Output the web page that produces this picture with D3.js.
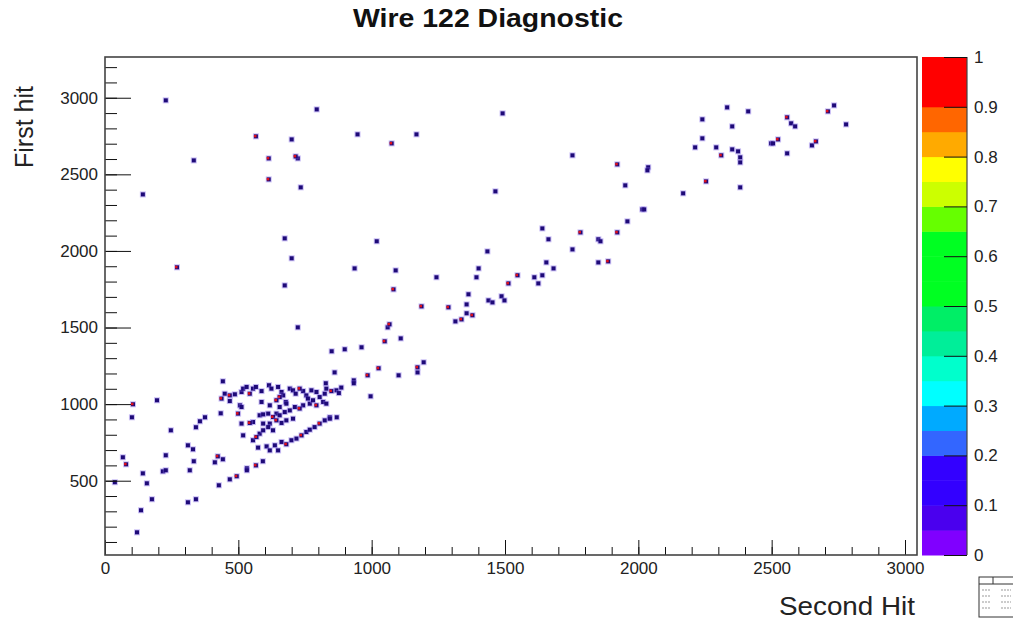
<!DOCTYPE html>
<html lang="en">
<head>
<meta charset="utf-8">
<title>Wire 122 Diagnostic</title>
<script src="https://d3js.org/d3.v7.min.js"></script>
<style>
  body, html { margin: 0; padding: 0; background: #fff; }
  svg { display: block; font-family: 'Liberation Sans', Arial, Helvetica, sans-serif; }
  .axis path { display: none; }
  .axis line { stroke: #111; }
  .axis text { font-size: 17px; fill: #222; }
</style>
</head>
<body>
<div id="chart"></div>
<script>
// hits drawn with the dark (low) palette colour: [second hit, first hit]
const hits = [
  [228,2983],[794,2924],[700,2728],[333,2591],[723,2604],[734,2415],[142,2369],[674,2082],[700,1952],[674,1775],
  [947,2761],[1168,2761],[1491,2898],[1464,2389],[1019,2063],[936,1886],[1090,1873],[1243,1828],[1434,1997],[1401,1886],
  [1393,1828],[1753,2624],[2037,2546],[2034,2526],[1951,2428],[2168,2376],[2382,2415],[2240,2859],[2333,2937],[2412,2911],
  [2352,2813],[2240,2735],[2213,2676],[2292,2676],[2352,2663],[2374,2650],[2382,2611],[2382,2578],[2498,2702],[2505,2702],
  [2573,2833],[2588,2813],[2558,2637],[2651,2689],[2734,2950],[2779,2826],[2015,2271],[2022,2271],[1959,2193],[1640,2147],
  [1663,2076],[1753,2010],[1850,2076],[1858,2063],[1850,1925],[1655,1925],[1682,1886],[1610,1828],[1640,1841],[1625,1788],
  [1487,1704],[1498,1677],[1363,1717],[1356,1651],[1356,1593],[1314,1540],[1438,1677],[1453,1664],[1060,1501],[1109,1429],
  [850,1345],[899,1358],[962,1371],[1195,1273],[1172,1207],[1101,1188],[861,1207],[933,1155],[933,1136],[996,1051],
  [723,1501],[195,1025],[101,914],[247,829],[341,849],[356,888],[375,914],[434,940],[311,731],[330,705],
  [228,666],[67,653],[142,548],[217,561],[228,568],[333,627],[318,568],[412,620],[442,640],[37,490],
  [157,483],[427,470],[468,509],[532,581],[532,568],[592,627],[176,379],[135,307],[311,359],[341,379],
  [120,163],[442,1149],[828,1136],[843,914],[869,914],
  [449,1068],[487,1064],[512,1079],[518,1101],[531,1112],[555,1101],[566,1112],[587,1085],[615,1123],[624,1101],
  [649,1112],[662,1079],[668,1057],[678,1014],[693,1101],[705,1090],[715,1068],[743,1085],[755,1057],[761,1036],
  [774,1090],[793,1079],[805,1046],[824,1068],[830,1101],[868,1090],[886,1108],[877,1072],
  [468,1020],[506,992],[512,981],[587,1014],[618,992],[655,981],[680,1003],[693,959],[712,981],[743,992],
  [768,1003],[780,1025],[818,1014],[830,1003],
  [512,873],[555,883],[580,927],[593,933],[612,938],[643,938],[655,927],[674,948],[705,905],[593,873],
  [618,873],[662,877],[680,894],
  [555,764],[580,807],[593,829],[612,850],[518,796],[630,829],
  [574,716],[606,724],[618,698],[637,731],[649,698],[662,753],[699,764],[718,775],[755,818],[768,833],
  [786,850],[824,894],[843,905]
];

// hits that show a red core
const hitsRed = [
  [566,2748],[614,2604],[715,2617],[614,2467],[270,1893],[1075,2702],[1513,1788],[1547,1841],[1921,2565],[2254,2454],
  [2311,2624],[2524,2728],[2558,2872],[2666,2715],[2711,2911],[1921,2121],[1783,2121],[1887,1932],[1082,1749],[1187,1638],
  [1288,1632],[1378,1580],[1337,1553],[1067,1521],[1049,1410],[1172,1240],[1026,1234],[985,1188],[105,999],[79,607],
  [423,659],[494,529],[566,600],
  [468,1057],[543,1068],[655,1046],[730,1101],[849,1085],[437,1036],[499,938],[643,1025],[730,971],[793,992],
  [543,877],[630,916],[643,894],[568,785],[680,738],[737,796],[805,873]
];

const xTicks = [0, 500, 1000, 1500, 2000, 2500, 3000];
const yTicks = [500, 1000, 1500, 2000, 2500, 3000];
const zTicks = [0, 0.1, 0.2, 0.3, 0.4, 0.5, 0.6, 0.7, 0.8, 0.9, 1];

// palette, 20 steps of 0.05 from 0 to 1
const palette = [
  "#8000ff", "#4a00ee", "#3300ff", "#3300ff", "#3366ff",
  "#00aaff", "#00ffff", "#00ffcc", "#00ee99", "#00ee66",
  "#00ff22", "#00ff22", "#00ff22", "#66ff00", "#ccff00",
  "#ffff00", "#ffaa00", "#ff6600", "#ff0000", "#ff0000"
];

const width = 1013, height = 621;
const plotL = 105, plotR = 917, plotT = 57, plotB = 555;

const svg = d3.select("#chart").append("svg")
    .attr("width", width)
    .attr("height", height);

const x = d3.scaleLinear().domain([0, 3045]).range([plotL, plotR]);
const y = d3.scaleLinear().domain([15, 3266]).range([plotB, plotT]);
const z = d3.scaleLinear().domain([0, 1]).range([plotB, plotT]);

// title
svg.append("text")
    .attr("x", 488)
    .attr("y", 27)
    .attr("text-anchor", "middle")
    .attr("textLength", 270)
    .attr("lengthAdjust", "spacingAndGlyphs")
    .style("font-size", "26px")
    .style("font-weight", "bold")
    .attr("fill", "#111")
    .text("Wire 122 Diagnostic");

// points
const g = svg.append("g");

function drawHit(sel, red) {
  sel.append("rect")
      .attr("x", d => x(d[0]) - 3)
      .attr("y", d => y(d[1]) - 3)
      .attr("width", 6).attr("height", 6)
      .attr("fill", "#8a70e8").attr("opacity", 0.45);
  sel.append("rect")
      .attr("x", d => x(d[0]) - 2)
      .attr("y", d => y(d[1]) - 2)
      .attr("width", 4).attr("height", 4)
      .attr("fill", "#1e0a78");
  if (red) {
    sel.append("rect")
        .attr("x", d => x(d[0]) - 2)
        .attr("y", d => y(d[1]) - 1.5)
        .attr("width", 2.5).attr("height", 2.5)
        .attr("fill", "#e0101a");
  }
}

g.selectAll("g.hit")
  .data(hits)
  .join("g")
    .attr("class", "hit")
    .call(drawHit, false);

g.selectAll("g.hitr")
  .data(hitsRed)
  .join("g")
    .attr("class", "hitr")
    .call(drawHit, true);

// axes
svg.append("g")
    .attr("class", "axis")
    .attr("transform", `translate(0,${plotB})`)
    .call(d3.axisBottom(x).tickValues(d3.range(0, 3001, 100)).tickSize(-8).tickFormat(""));

svg.append("g")
    .attr("class", "axis")
    .attr("transform", `translate(0,${plotB})`)
    .call(d3.axisBottom(x).tickValues(xTicks).tickSize(-15).tickPadding(7).tickFormat(d3.format("d")));

svg.append("g")
    .attr("class", "axis")
    .attr("transform", `translate(${plotL},0)`)
    .call(d3.axisLeft(y).tickValues(d3.range(100, 3201, 100)).tickSize(-12).tickFormat(""));

svg.append("g")
    .attr("class", "axis")
    .attr("transform", `translate(${plotL},0)`)
    .call(d3.axisLeft(y).tickValues(yTicks).tickSize(-26).tickPadding(7).tickFormat(d3.format("d")));

// frame
svg.append("rect")
    .attr("x", plotL).attr("y", plotT)
    .attr("width", plotR - plotL).attr("height", plotB - plotT)
    .attr("fill", "none")
    .attr("stroke", "#444")
    .attr("stroke-width", 1.6);

// axis titles
svg.append("text")
    .attr("x", 915)
    .attr("y", 615)
    .attr("text-anchor", "end")
    .attr("textLength", 136)
    .attr("lengthAdjust", "spacingAndGlyphs")
    .style("font-size", "26px")
    .attr("fill", "#222")
    .text("Second Hit");

svg.append("text")
    .attr("transform", "translate(33,86) rotate(-90)")
    .attr("text-anchor", "end")
    .style("font-size", "25px")
    .attr("fill", "#222")
    .text("First hit");

// colour bar
const cbX = 922, cbW = 45;
svg.append("g")
  .selectAll("rect")
  .data(palette)
  .join("rect")
    .attr("x", cbX)
    .attr("y", (d, i) => z((i + 1) * 0.05))
    .attr("width", cbW)
    .attr("height", (d, i) => z(i * 0.05) - z((i + 1) * 0.05) + 0.5)
    .attr("fill", d => d);

svg.append("line")
    .attr("x1", cbX + cbW).attr("x2", cbX + cbW)
    .attr("y1", plotT).attr("y2", plotB)
    .attr("stroke", "#444").attr("stroke-width", 1.2);

svg.append("g")
    .attr("class", "axis")
    .attr("transform", `translate(${cbX + cbW},0)`)
    .call(d3.axisRight(z).tickValues(zTicks).tickSize(-23).tickPadding(7)
      .tickFormat(d => d === 0 || d === 1 ? d : d3.format(".1f")(d)));

// small stats box glyph at the corner
const box = svg.append("g").attr("transform", "translate(979,577)");
box.append("rect").attr("width", 40).attr("height", 40).attr("fill", "#fff").attr("stroke", "#333");
box.append("line").attr("x1", 0).attr("x2", 40).attr("y1", 7).attr("y2", 7).attr("stroke", "#333");
box.append("line").attr("x1", 14).attr("x2", 14).attr("y1", 0).attr("y2", 7).attr("stroke", "#333");
[13, 19, 25, 31].forEach(v => {
  box.append("line").attr("x1", 3).attr("x2", 11).attr("y1", v).attr("y2", v)
     .attr("stroke", "#999").attr("stroke-dasharray", "2,1");
  box.append("line").attr("x1", 22).attr("x2", 32).attr("y1", v).attr("y2", v)
     .attr("stroke", "#999").attr("stroke-dasharray", "2,1");
});
</script>
</body>
</html>
